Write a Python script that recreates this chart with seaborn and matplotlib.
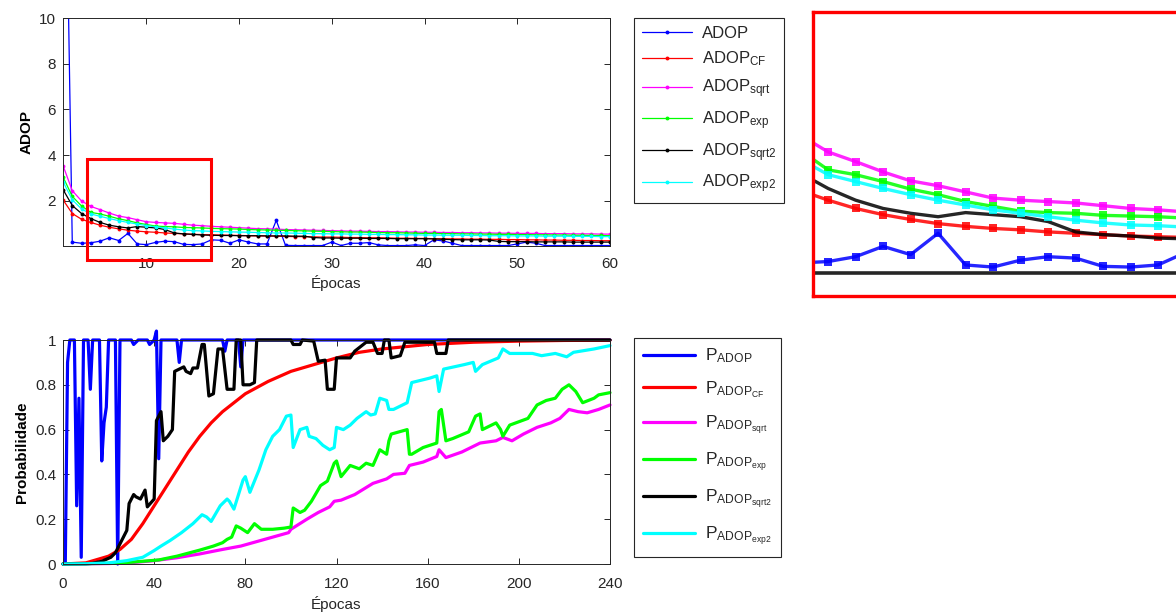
import matplotlib
matplotlib.use("Agg")
import seaborn as sns
from matplotlib import pyplot as plt
from matplotlib.lines import Line2D
from matplotlib.patches import Rectangle

# ---- top panel: ADOP per epoch (epochs 1..60) ----
epochs_top = list(range(1, 61))

adop = [25.0, 0.20, 0.15, 0.17, 0.24, 0.39, 0.27, 0.58, 0.12, 0.09,
        0.19, 0.24, 0.22, 0.10, 0.09, 0.12, 0.30, 0.28, 0.15, 0.30,
        0.20, 0.12, 0.12, 1.15, 0.06, 0.05, 0.05, 0.05, 0.05, 0.20,
        0.05, 0.15, 0.15, 0.18, 0.08, 0.05, 0.05, 0.05, 0.08, 0.05,
        0.30, 0.25, 0.15, 0.05, 0.05, 0.05, 0.05, 0.05, 0.05, 0.12,
        0.20, 0.15, 0.05, 0.05, 0.05, 0.05, 0.05, 0.05, 0.05, 0.05]
adop_cf = [2.05, 1.45, 1.20, 1.06, 0.94, 0.85, 0.78, 0.72, 0.68, 0.65,
           0.63, 0.60, 0.58, 0.56, 0.54, 0.53, 0.52, 0.51, 0.50, 0.49,
           0.48, 0.47, 0.47, 0.46, 0.45, 0.44, 0.44, 0.43, 0.42, 0.42,
           0.41, 0.40, 0.40, 0.39, 0.39, 0.38, 0.37, 0.37, 0.36, 0.36,
           0.35, 0.35, 0.34, 0.34, 0.33, 0.33, 0.32, 0.32, 0.31, 0.31,
           0.30, 0.30, 0.29, 0.29, 0.28, 0.28, 0.27, 0.27, 0.26, 0.26]
adop_sqrt = [3.55, 2.45, 2.00, 1.76, 1.62, 1.47, 1.34, 1.27, 1.18, 1.09,
             1.06, 1.04, 1.02, 0.98, 0.94, 0.92, 0.89, 0.87, 0.85, 0.83,
             0.81, 0.79, 0.78, 0.77, 0.75, 0.74, 0.73, 0.72, 0.71, 0.70,
             0.69, 0.68, 0.68, 0.67, 0.66, 0.66, 0.65, 0.64, 0.64, 0.63,
             0.63, 0.62, 0.62, 0.61, 0.61, 0.60, 0.60, 0.59, 0.59, 0.58,
             0.58, 0.58, 0.57, 0.57, 0.57, 0.56, 0.56, 0.56, 0.55, 0.55]
adop_exp = [3.05, 2.20, 1.78, 1.50, 1.43, 1.33, 1.22, 1.14, 1.04, 0.97,
            0.90, 0.88, 0.87, 0.84, 0.83, 0.82, 0.80, 0.79, 0.78, 0.77,
            0.75, 0.74, 0.73, 0.72, 0.71, 0.70, 0.69, 0.68, 0.67, 0.66,
            0.65, 0.64, 0.64, 0.63, 0.62, 0.61, 0.61, 0.60, 0.59, 0.58,
            0.58, 0.57, 0.57, 0.56, 0.56, 0.55, 0.55, 0.54, 0.54, 0.53,
            0.53, 0.52, 0.52, 0.51, 0.51, 0.50, 0.50, 0.49, 0.49, 0.48]
adop_sqrt2 = [2.50, 1.80, 1.45, 1.23, 1.06, 0.94, 0.87, 0.82, 0.88, 0.85,
              0.82, 0.75, 0.60, 0.56, 0.54, 0.51, 0.50, 0.49, 0.49, 0.48,
              0.48, 0.48, 0.47, 0.47, 0.47, 0.46, 0.46, 0.40, 0.38, 0.38,
              0.37, 0.37, 0.37, 0.36, 0.36, 0.36, 0.35, 0.35, 0.35, 0.35,
              0.34, 0.32, 0.31, 0.30, 0.30, 0.30, 0.29, 0.23, 0.22, 0.22,
              0.22, 0.21, 0.21, 0.21, 0.21, 0.20, 0.20, 0.20, 0.20, 0.20]
adop_exp2 = [2.85, 2.05, 1.65, 1.43, 1.33, 1.23, 1.14, 1.06, 0.99, 0.92,
             0.87, 0.82, 0.77, 0.73, 0.70, 0.69, 0.67, 0.66, 0.65, 0.64,
             0.63, 0.62, 0.61, 0.60, 0.60, 0.59, 0.58, 0.57, 0.57, 0.56,
             0.56, 0.55, 0.55, 0.54, 0.54, 0.53, 0.53, 0.52, 0.52, 0.51,
             0.51, 0.50, 0.50, 0.50, 0.49, 0.49, 0.48, 0.48, 0.48, 0.47,
             0.47, 0.47, 0.46, 0.46, 0.46, 0.45, 0.45, 0.45, 0.44, 0.44]

# ---- bottom panel: probability vs epoch, (epoch, value) breakpoints ----
p_adop = [(0, 0.0), (1, 0.0), (2, 0.9), (3, 1.0), (5, 1.0), (6, 0.26), (7, 0.74),
          (8, 0.03), (9, 1.0), (11, 1.0), (12, 0.78), (13, 1.0), (16, 1.0), (17, 0.46),
          (18, 0.63), (19, 0.70), (20, 1.0), (23, 1.0), (24, 0.0), (25, 1.0), (30, 1.0),
          (31, 0.98), (33, 1.0), (37, 1.0), (38, 0.98), (40, 1.0), (41, 1.04), (42, 0.47),
          (43, 1.0), (50, 1.0), (51, 0.9), (52, 1.0), (70, 1.0), (71, 0.95), (72, 1.0),
          (77, 1.0), (78, 0.88), (79, 1.0), (240, 1.0)]
p_cf = [(0, 0.0), (10, 0.005), (20, 0.035), (25, 0.065), (30, 0.11), (35, 0.18),
        (40, 0.26), (45, 0.34), (50, 0.42), (55, 0.50), (60, 0.57), (65, 0.63),
        (70, 0.68), (80, 0.76), (90, 0.815), (100, 0.86), (110, 0.89), (120, 0.92),
        (130, 0.945), (140, 0.96), (150, 0.97), (160, 0.98), (180, 0.99),
        (200, 0.995), (220, 0.998), (240, 0.999)]
p_sqrt = [(0, 0.0), (20, 0.002), (30, 0.006), (40, 0.015), (50, 0.028), (60, 0.045),
          (70, 0.065), (78, 0.08), (85, 0.10), (92, 0.12), (99, 0.14), (100, 0.155),
          (107, 0.20), (112, 0.23), (117, 0.255), (119, 0.28), (122, 0.285), (128, 0.31),
          (136, 0.36), (142, 0.38), (145, 0.40), (150, 0.405), (152, 0.44), (158, 0.455),
          (164, 0.48), (165, 0.51), (168, 0.475), (175, 0.50), (183, 0.54), (190, 0.55),
          (193, 0.565), (197, 0.55), (202, 0.58), (208, 0.61), (214, 0.63), (218, 0.65),
          (222, 0.69), (226, 0.68), (230, 0.675), (235, 0.69), (240, 0.71)]
p_exp = [(0, 0.0), (20, 0.003), (30, 0.008), (42, 0.018), (50, 0.035), (60, 0.062),
         (66, 0.08), (70, 0.095), (72, 0.11), (74, 0.12), (76, 0.17), (78, 0.16),
         (81, 0.14), (84, 0.18), (87, 0.155), (92, 0.155), (97, 0.16), (100, 0.165),
         (101, 0.25), (104, 0.23), (106, 0.24), (109, 0.28), (113, 0.35), (116, 0.37),
         (119, 0.45), (120, 0.46), (122, 0.39), (126, 0.44), (130, 0.425), (133, 0.45),
         (136, 0.44), (139, 0.51), (142, 0.49), (143, 0.55), (144, 0.58), (151, 0.60),
         (152, 0.49), (153, 0.49), (158, 0.52), (164, 0.54), (165, 0.68), (166, 0.69),
         (168, 0.55), (171, 0.56), (178, 0.59), (181, 0.66), (183, 0.67), (184, 0.60),
         (190, 0.63), (192, 0.60), (193, 0.57), (196, 0.62), (204, 0.65), (208, 0.71),
         (212, 0.73), (216, 0.74), (219, 0.78), (222, 0.80), (225, 0.77), (228, 0.72),
         (233, 0.74), (235, 0.755), (240, 0.765)]
p_sqrt2 = [(0, 0.0), (10, 0.001), (13, 0.003), (17, 0.012), (21, 0.03), (23, 0.05),
           (25, 0.09), (27, 0.13), (28, 0.15), (29, 0.27), (31, 0.31), (32, 0.30),
           (34, 0.29), (36, 0.33), (37, 0.255), (40, 0.29), (41, 0.64), (43, 0.68),
           (44, 0.55), (46, 0.57), (48, 0.60), (49, 0.86), (51, 0.87), (53, 0.88),
           (54, 0.86), (56, 0.85), (57, 0.875), (59, 0.875), (61, 0.98), (62, 0.98),
           (64, 0.75), (66, 0.76), (68, 0.96), (70, 0.96), (72, 0.78), (75, 0.78),
           (76, 1.0), (78, 1.0), (79, 0.80), (82, 0.80), (84, 0.81), (85, 1.0),
           (100, 1.0), (101, 0.98), (104, 0.98), (105, 1.0), (110, 0.995), (112, 0.905),
           (115, 0.91), (116, 0.78), (119, 0.78), (120, 0.92), (126, 0.92), (128, 0.95),
           (133, 0.99), (136, 0.99), (138, 0.94), (140, 0.94), (141, 1.0), (143, 1.0),
           (144, 0.92), (148, 0.93), (150, 0.99), (163, 0.99), (164, 0.94), (168, 0.94),
           (169, 1.0), (240, 1.0)]
p_exp2 = [(0, 0.0), (10, 0.001), (20, 0.005), (28, 0.015), (35, 0.03), (40, 0.06),
          (43, 0.08), (47, 0.105), (52, 0.14), (57, 0.18), (61, 0.22), (63, 0.21),
          (65, 0.19), (69, 0.26), (72, 0.29), (73, 0.28), (75, 0.245), (79, 0.375),
          (80, 0.39), (82, 0.32), (86, 0.42), (89, 0.51), (92, 0.57), (95, 0.60),
          (98, 0.66), (100, 0.665), (101, 0.52), (104, 0.60), (107, 0.61), (108, 0.57),
          (111, 0.56), (114, 0.53), (117, 0.51), (119, 0.52), (120, 0.61), (123, 0.60),
          (126, 0.62), (129, 0.65), (133, 0.68), (135, 0.665), (137, 0.67), (139, 0.74),
          (142, 0.73), (143, 0.69), (145, 0.69), (151, 0.72), (153, 0.81), (161, 0.83),
          (164, 0.84), (165, 0.77), (167, 0.87), (176, 0.89), (180, 0.90), (181, 0.86),
          (184, 0.89), (191, 0.92), (193, 0.96), (196, 0.94), (206, 0.94), (210, 0.93),
          (216, 0.94), (221, 0.925), (224, 0.945), (233, 0.96), (240, 0.975)]

top_labels = ["ADOP", "ADOP$_{CF}$", "ADOP$_{sqrt}$", "ADOP$_{exp}$",
              "ADOP$_{sqrt2}$", "ADOP$_{exp2}$"]
bottom_labels = ["P$_{ADOP}$", "P$_{ADOP_{CF}}$", "P$_{ADOP_{sqrt}}$",
                 "P$_{ADOP_{exp}}$", "P$_{ADOP_{sqrt2}}$", "P$_{ADOP_{exp2}}$"]
colors = ["#0000ff", "#ff0000", "#ff00ff", "#00ff00", "#000000", "#00ffff"]

top_series = [adop, adop_cf, adop_sqrt, adop_exp, adop_sqrt2, adop_exp2]
bottom_series = [p_adop, p_cf, p_sqrt, p_exp, p_sqrt2, p_exp2]

# zoom window drawn on the top panel
zoom_box_x = (3.6, 17.0)
zoom_box_y = (-0.57, 3.85)
inset_xlim = (3.45, 17.2)
inset_ylim = (-0.33, 3.79)

sns.set_style("white")
plt.rcParams["font.family"] = ["Liberation Sans", "DejaVu Sans"]
plt.rcParams["mathtext.fontset"] = "custom"
plt.rcParams["mathtext.rm"] = "Liberation Sans"
plt.rcParams["mathtext.it"] = "Liberation Sans"
plt.rcParams["mathtext.default"] = "regular"

AX_COLOR = "#262626"


def matlab_axes(ax, pad):
    for s in ax.spines.values():
        s.set_visible(True)
        s.set_color(AX_COLOR)
        s.set_linewidth(0.7)
    ax.tick_params(direction="in", top=True, right=True, bottom=True, left=True,
                   length=4, width=0.7, colors=AX_COLOR, labelsize=11)
    ax.tick_params(axis="x", pad=pad)
    ax.tick_params(axis="y", pad=5)


fig = plt.figure(figsize=(11.76, 6.15), dpi=100)
ax_top = fig.add_axes([63 / 1176, 1 - 246 / 615, 547 / 1176, 228 / 615])
ax_bot = fig.add_axes([63 / 1176, 1 - 564 / 615, 547 / 1176, 224 / 615])
ax_zoom = fig.add_axes([813 / 1176, 1 - 296 / 615, 378 / 1176, 284 / 615])

# top panel
for vals, col in zip(top_series, colors):
    sns.lineplot(x=epochs_top, y=vals, ax=ax_top, color=col, linewidth=0.9,
                 marker="o", markersize=2.8, markeredgewidth=0)
ax_top.set_xlim(1, 60)
ax_top.set_ylim(0.03, 10)
ax_top.set_xticks([10, 20, 30, 40, 50, 60])
ax_top.set_yticks([2, 4, 6, 8, 10])
ax_top.set_xlabel("Épocas", fontsize=11, color=AX_COLOR, labelpad=3)
ax_top.set_ylabel("ADOP", fontsize=11, fontweight="bold", color="black")
matlab_axes(ax_top, pad=8)
ax_top.add_patch(Rectangle((zoom_box_x[0], zoom_box_y[0]),
                           zoom_box_x[1] - zoom_box_x[0], zoom_box_y[1] - zoom_box_y[0],
                           fill=False, edgecolor="#ff0000", linewidth=2.2, clip_on=False,
                           zorder=5))

# bottom panel
for pts, col in zip(bottom_series, colors):
    xs = [p[0] for p in pts]
    ys = [p[1] for p in pts]
    sns.lineplot(x=xs, y=ys, ax=ax_bot, color=col, linewidth=2.3, clip_on=False)
ax_bot.set_xlim(0, 240)
ax_bot.set_ylim(0, 1)
ax_bot.set_xticks([0, 40, 80, 120, 160, 200, 240])
ax_bot.set_yticks([0, 0.2, 0.4, 0.6, 0.8, 1.0])
ax_bot.set_yticklabels(["0", "0.2", "0.4", "0.6", "0.8", "1"])
ax_bot.set_xlabel("Épocas", fontsize=11, color=AX_COLOR, labelpad=4)
ax_bot.set_ylabel("Probabilidade", fontsize=11, fontweight="bold", color="black")
matlab_axes(ax_bot, pad=9)

# zoomed view of the boxed region
ax_zoom.axhline(0, color=AX_COLOR, linewidth=2.6)
for vals, col in zip(top_series, colors):
    mk = "" if col == "#000000" else "s"
    sns.lineplot(x=epochs_top, y=vals, ax=ax_zoom, color=col, linewidth=2.4,
                 marker=mk, markersize=6, markeredgewidth=0, alpha=0.85)
ax_zoom.set_xlim(*inset_xlim)
ax_zoom.set_ylim(*inset_ylim)
ax_zoom.set_xticks([])
ax_zoom.set_yticks([])
ax_zoom.set_xlabel("")
ax_zoom.set_ylabel("")
for s in ax_zoom.spines.values():
    s.set_visible(True)
    s.set_color("#ff0000")
    s.set_linewidth(2.4)

# legends
top_handles = [Line2D([], [], color=c, linewidth=0.9, marker="o", markersize=2.8,
                      markeredgewidth=0) for c in colors]
bot_handles = [Line2D([], [], color=c, linewidth=2.3) for c in colors]
leg_kw = dict(loc="upper left", frameon=True, fancybox=False, numpoints=1,
              borderaxespad=0, handlelength=3.0, handletextpad=0.6)
leg1 = fig.legend(top_handles, top_labels, bbox_to_anchor=(634 / 1176, 1 - 18 / 615),
                  fontsize=12, labelspacing=0.55, borderpad=0.45, **leg_kw)
leg2 = fig.legend(bot_handles, bottom_labels, bbox_to_anchor=(634 / 1176, 1 - 338 / 615),
                  fontsize=12.5, labelspacing=0.8, borderpad=0.5, **leg_kw)
for leg in (leg1, leg2):
    leg.get_frame().set_edgecolor(AX_COLOR)
    leg.get_frame().set_linewidth(0.8)
    leg.get_frame().set_alpha(1)
    leg.get_frame().set_boxstyle("square", pad=0)

for ax in (ax_top, ax_bot, ax_zoom):
    if ax.get_legend() is not None:
        ax.get_legend().remove()

fig.savefig("out.png", dpi=100)
